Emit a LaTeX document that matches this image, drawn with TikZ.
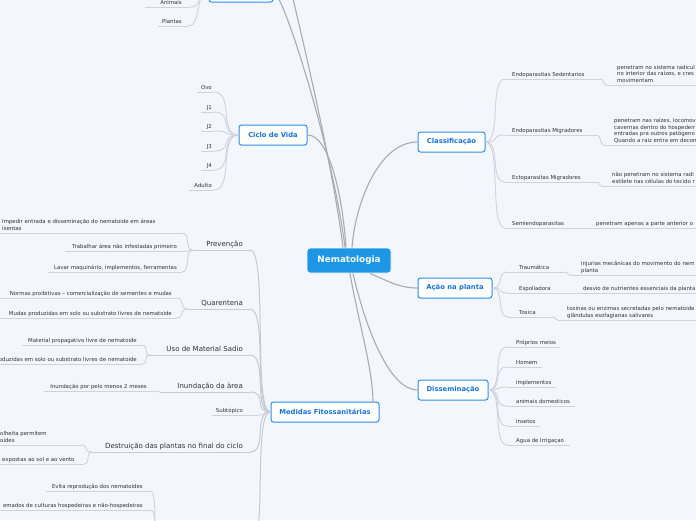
\documentclass[tikz,border=0pt]{standalone}
\usepackage{fontspec}
\setmainfont{DejaVu Sans}
\usetikzlibrary{calc}
\definecolor{bgc}{RGB}{243,246,253}
\definecolor{boxblue}{RGB}{45,140,232}
\definecolor{titleblue}{RGB}{25,115,215}
\definecolor{rootblue}{RGB}{30,150,230}
\definecolor{mainline}{RGB}{172,172,176}
\definecolor{subline}{RGB}{200,202,210}
\definecolor{leafline}{RGB}{208,211,222}
\definecolor{txt}{RGB}{50,50,55}
\newcommand\fleaf{\fontsize{5.4}{6.5}\selectfont}
\newcommand\fsubt{\fontsize{7}{8.4}\selectfont}
\newcommand\ftitle{\fontsize{6.8}{8}\selectfont\bfseries}
\newcommand\froot{\fontsize{8.8}{10}\selectfont\bfseries}
\tikzset{
  leaf/.style={font=\fleaf, text=txt, inner xsep=0pt, inner ysep=1pt, align=left, execute at end node={\rule[-1.5pt]{0pt}{0pt}}},
  subtopic/.style={font=\fsubt, text=txt, inner xsep=0pt, inner ysep=1pt, align=left, execute at end node={\rule[-2pt]{0pt}{0pt}}},
  uline/.style={draw=leafline, line width=0.9pt},
  subuline/.style={draw=subline, line width=1pt},
  topic/.style={draw=boxblue, line width=1pt, fill=white, rounded corners=2.5pt, font=\ftitle, text=titleblue, minimum height=20pt, inner sep=0pt},
  root/.style={fill=rootblue, draw=white, line width=0.8pt, rounded corners=3pt, font=\froot, text=white, minimum width=84pt, minimum height=25pt, inner sep=0pt},
  mainconn/.style={draw=mainline, line width=1.1pt},
  subconn/.style={draw=subline, line width=1pt},
  leafconn/.style={draw=leafline, line width=0.9pt},
  sc/.style={out=0, in=180, distance=#1},
}
% left-anchored leaf: name, style, text x, ul left, ul right, ul y, line style, text
\newcommand\lf[8]{%
 \coordinate (#1-w) at (#4,#6);
 \coordinate (#1-e) at (#5,#6);
 \node[#2, anchor=south west] (#1) at (#3,#6) {#8};
 \draw[#7] (#1-w) -- (#1-e);
}
% right-anchored leaf: text x is the right edge of the text
\newcommand\lfr[8]{%
 \coordinate (#1-w) at (#4,#6);
 \coordinate (#1-e) at (#5,#6);
 \node[#2, anchor=south east] (#1) at (#3,#6) {#8};
 \draw[#7] (#1-w) -- (#1-e);
}
\begin{document}
\begin{tikzpicture}[x=1pt,y=-1pt]
\useasboundingbox (0,0) rectangle (696,520);
\fill[bgc] (0,0) rectangle (696,520);
\clip (0,0) rectangle (696,520);

% ---------- topic boxes ----------
\node[root] (c) at (349,260.5) {Nematologia};
\node[topic, minimum width=64pt] (tb) at (241,-8) {};
\node[topic, minimum width=68pt] (cv) at (273,135) {Ciclo de Vida};
\node[topic, minimum width=67pt] (cl) at (451.5,142) {Classificação};
\node[topic, minimum width=74pt] (ac) at (455,288) {Ação na planta};
\node[topic, minimum width=70pt] (ds) at (453,390) {Disseminação};
\node[topic, minimum width=108pt] (md) at (325,412) {Medidas Fitossanitárias};
\coordinate (up2) at (284,-40);

% ---------- main connectors ----------
\draw[mainconn] (tb.east) .. controls (283,-8) and (333,150) .. ($(c.north)+(-4,0)$);
\draw[mainconn] (up2) .. controls (288,-20) and (331,150) .. ($(c.north)+(-6,0)$);
\draw[mainconn] (cv.east) .. controls (330,135) and (343,200) .. ($(c.north)+(-3,0)$);
\draw[mainconn] ($(c.north)+(3,0)$) .. controls (355,205) and (378,142) .. (cl.west);
\draw[mainconn] ($(c.south)+(21,0)$) .. controls (390,282) and (400,288) .. (ac.west);
\draw[mainconn] ($(c.south)+(4,0)$) .. controls (366,330) and (390,390) .. (ds.west);
\draw[mainconn] ($(c.south)+(1,0)$) .. controls (358,320) and (373,370) .. ($(md.north)+(48,0)$);

% ---------- top box children ----------
\lfr{an}{leaf}{182}{145}{190}{7}{uline}{Animais}
\lfr{pl}{leaf}{182}{158}{188}{26}{uline}{Plantas}
\draw[leafconn] (an-e) to[sc=14pt] (tb.west);
\draw[leafconn] (pl-e) to[sc=14pt] (tb.west);

% ---------- Ciclo de Vida ----------
\lfr{ovo}{leaf}{212}{197}{214}{92}{uline}{Ovo}
\lfr{ja}{leaf}{212}{201}{214}{112}{uline}{J1}
\lfr{jb}{leaf}{212}{201}{214}{131}{uline}{J2}
\lfr{jc}{leaf}{212}{201}{214}{151}{uline}{J3}
\lfr{jd}{leaf}{212}{201}{214}{170}{uline}{J4}
\lfr{adu}{leaf}{212}{189}{214}{190}{uline}{Adulto}
\foreach \n in {ovo,ja,jb,jc,jd,adu} \draw[leafconn] (\n-e) to[sc=20pt] (cv.west);

% ---------- Medidas Fitossanitárias ----------
\lfr{prev}{subtopic}{243}{193}{250}{250}{subuline}{Prevenção}
\lfr{quar}{subtopic}{243}{188}{250}{309}{subuline}{Quarentena}
\lfr{uso}{subtopic}{243}{150}{250}{355}{subuline}{Uso de Material Sadio}
\lfr{inun}{subtopic}{243}{160}{250}{392}{subuline}{Inundação da àrea}
\lfr{stp}{leaf}{243}{212}{258}{415}{uline}{Subtópico}
\lfr{dest}{subtopic}{243}{92}{250}{452}{subuline}{Destruição das plantas no final do ciclo}
\coordinate (rot-w) at (160,548);
\coordinate (rot-e) at (250,548);
\draw[subuline] (rot-w) -- (rot-e);
\foreach \n in {prev,quar,uso,inun,dest,rot} \draw[subconn] (\n-e) to[sc=18pt] (md.west);
\draw[leafconn] (stp-e) to[sc=10pt] (md.west);

% Prevenção
\lf{imp}{leaf}{2}{0}{182}{233}{uline}{Impedir entrada e disseminação do nematoide em áreas\\isentas}
\lfr{trab}{leaf}{177}{65}{186}{251}{uline}{Trabalhar área não infestadas primeiro}
\lfr{lav}{leaf}{177}{48}{182}{272}{uline}{Lavar maquinário, implementos, ferramentas}
\foreach \n in {imp,trab,lav} \draw[leafconn] (\n-e) to[sc=9pt] (prev-w);

% Quarentena
\lfr{nor}{leaf}{172}{0}{176}{298}{uline}{Normas proibitivas – comercialização de sementes e mudas}
\lfr{mud}{leaf}{172}{0}{176}{318}{uline}{Mudas produzidas em solo ou substrato livres de nematoide}
\foreach \n in {nor,mud} \draw[leafconn] (\n-e) to[sc=10pt] (quar-w);

% Uso de Material Sadio
\lfr{mat}{leaf}{137}{22}{142}{345}{uline}{Material propagativo livre de nematoide}
\lfr{mud2}{leaf}{137}{0}{142}{364}{uline}{Mudas produzidas em solo ou substrato livres de nematoide}
\foreach \n in {mat,mud2} \draw[leafconn] (\n-e) to[sc=7pt] (uso-w);

% Inundação
\lfr{inp}{leaf}{147}{44}{156}{391}{uline}{Inundação por pelo menos 2 meses}
\draw[leafconn] (inp-e) to[sc=3pt] (inun-w);

% Destruição
\lf{col}{leaf}{0}{0}{80}{445}{uline}{olheita permitem\\oides}
\lf{exp}{leaf}{2}{0}{84}{464}{uline}{expostas ao sol e ao vento}
\draw[leafconn] (col-e) to[sc=10pt] (dest-w);
\draw[leafconn] (exp-e) to[sc=7pt] (dest-w);

% group below the picture
\lfr{evi}{leaf}{143}{46}{150}{491}{uline}{Evita reprodução dos nematoides}
\lfr{ema}{leaf}{143}{0}{150}{510}{uline}{emados de culturas hospedeiras e não-hospedeiras}
\foreach \n in {evi,ema} \draw[leafconn] (\n-e) to[sc=9pt] (rot-w);

% ---------- Classificação ----------
\lf{es}{leaf}{512}{505}{600}{79}{uline}{Endoparasitas Sedentarios}
\lf{esd}{leaf}{617}{607}{720}{85}{uline}{penetram no sistema radicul\\no interior das raízes, e cres\\movimentam}
\lf{em}{leaf}{512}{505}{597}{135}{uline}{Endoparasitas Migradores}
\lf{emd}{leaf}{614}{604}{720}{145}{uline}{penetram nas raízes, locomov\\cavernas dentro do hospedeir\\entradas pra outros patógeno\\Quando a raiz entra em decom}
\lf{ec}{leaf}{512}{505}{597}{182}{uline}{Ectoparasitas Migradores}
\lf{ecd}{leaf}{612}{602}{720}{186}{uline}{não penetram no sistema radi\\estilete nas células do tecido r}
\lf{se}{leaf}{512}{505}{590}{228}{uline}{Semiendoparasitas}
\lf{sed}{leaf}{596}{590}{720}{228}{uline}{penetram apenas a parte anterior o}
\foreach \n in {es,em,ec,se} \draw[leafconn] (cl.east) to[sc=16pt] (\n-w);
\draw[leafconn] (es-e) to[sc=5pt] (esd-w);
\draw[leafconn] (em-e) to[sc=5pt] (emd-w);
\draw[leafconn] (ec-e) to[sc=4pt] (ecd-w);
\draw[leafconn] (se-e) -- (sed-w);

% ---------- Ação na planta ----------
\lf{tr}{leaf}{519}{508}{565}{272}{uline}{Traumática}
\lf{trd}{leaf}{581}{570}{720}{275}{uline}{injurias mecânicas do movimento do nem\\planta}
\lf{esp}{leaf}{519}{508}{575}{293}{uline}{Espoliadora}
\lf{espd}{leaf}{583}{575}{720}{293}{uline}{desvio de nutrientes essenciais da planta}
\lf{tx}{leaf}{519}{508}{553}{317}{uline}{Toxica}
\lf{txd}{leaf}{567}{558}{720}{320}{uline}{toxinas ou enzimas secretadas pelo nematoide\\glândulas esofagianas salivares}
\foreach \n in {tr,esp,tx} \draw[leafconn] (ac.east) to[sc=12pt] (\n-w);
\draw[leafconn] (tr-e) to[sc=4pt] (trd-w);
\draw[leafconn] (esp-e) -- (espd-w);
\draw[leafconn] (tx-e) to[sc=4pt] (txd-w);

% ---------- Disseminação ----------
\lf{pm}{leaf}{516}{507}{560}{347}{uline}{Próprios meios}
\lf{hm}{leaf}{516}{507}{542}{367}{uline}{Homem}
\lf{im}{leaf}{516}{507}{556}{387}{uline}{implementos}
\lf{amd}{leaf}{516}{507}{575}{406}{uline}{animais domesticos}
\lf{ins}{leaf}{516}{507}{540}{426}{uline}{insetos}
\lf{ag}{leaf}{516}{507}{570}{445}{uline}{Agua de Irrigaçao}
\foreach \n in {pm,hm,im,amd,ins,ag} \draw[leafconn] (ds.east) to[sc=15pt] (\n-w);
\end{tikzpicture}
\end{document}
